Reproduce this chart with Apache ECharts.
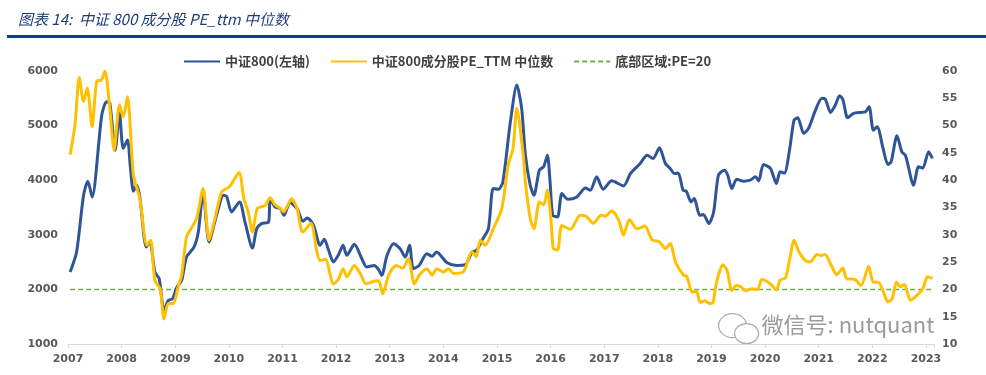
<!DOCTYPE html>
<html>
<head>
<meta charset="utf-8">
<script src="https://cdn.jsdelivr.net/npm/echarts@6/dist/echarts.min.js"></script>
<style>
  html, body { margin: 0; padding: 0; background: #fff; }
  #main { width: 986px; height: 375px; }
</style>
</head>
<body>
<div id="main"></div>
<script>
// 中证800 指数（左轴），时间为小数年份
var csiDates = [2007.04, 2007.16, 2007.29, 2007.37, 2007.45, 2007.63, 2007.72, 2007.78, 2007.88, 2007.96,
    2008.03, 2008.11, 2008.16, 2008.22, 2008.28, 2008.34, 2008.46, 2008.53, 2008.62, 2008.70, 2008.79, 2008.87, 2008.95,
    2009.03, 2009.12, 2009.21, 2009.35, 2009.43, 2009.52, 2009.63, 2009.77, 2009.90, 2009.96,
    2010.05, 2010.20, 2010.30, 2010.44, 2010.52, 2010.61, 2010.74, 2010.77, 2010.86, 2010.96,
    2011.03, 2011.14, 2011.27, 2011.38, 2011.46, 2011.58, 2011.70, 2011.78, 2011.86, 2011.95,
    2012.04, 2012.13, 2012.20, 2012.34, 2012.48, 2012.57, 2012.71, 2012.79, 2012.85, 2012.95,
    2013.07, 2013.19, 2013.29, 2013.37, 2013.44, 2013.55, 2013.69, 2013.79, 2013.87,
    2014.07, 2014.25, 2014.41, 2014.53, 2014.62, 2014.72, 2014.84, 2014.93,
    2015.03, 2015.11, 2015.25, 2015.37, 2015.46, 2015.53, 2015.62, 2015.69, 2015.79, 2015.87, 2015.94, 2015.99,
    2016.04, 2016.13, 2016.21, 2016.32, 2016.49, 2016.65, 2016.74, 2016.86, 2016.98,
    2017.14, 2017.36, 2017.49, 2017.67, 2017.80, 2017.91,
    2018.03, 2018.14, 2018.23, 2018.31, 2018.38, 2018.47, 2018.53, 2018.62, 2018.68, 2018.78, 2018.85, 2018.95,
    2019.04, 2019.13, 2019.24, 2019.30, 2019.38, 2019.47, 2019.60, 2019.72, 2019.82, 2019.88, 2019.97,
    2020.10, 2020.21, 2020.28, 2020.36, 2020.46, 2020.54, 2020.61, 2020.72, 2020.81, 2020.94,
    2021.06, 2021.12, 2021.22, 2021.31, 2021.39, 2021.45, 2021.54, 2021.65, 2021.78, 2021.87, 2021.94,
    2022.02, 2022.09, 2022.20, 2022.29, 2022.35, 2022.46, 2022.55, 2022.62, 2022.77, 2022.86, 2022.94,
    2023.05, 2023.12];
var csiValues = [2317, 2685, 3725, 3982, 3693, 5193, 5437, 5413, 4550, 5224,
    4582, 4734, 4275, 3798, 3908, 3694, 2776, 2868, 2317, 2196, 1615, 1798, 1828,
    2043, 2165, 2593, 2776, 3052, 3786, 2868, 3358, 3725, 3700,
    3419, 3603, 3235, 2758, 3113, 3205, 3235, 3664, 3511, 3480,
    3358, 3591, 3480, 3248, 3309, 3174, 2807, 2917, 2716, 2501,
    2624, 2807, 2624, 2826, 2563, 2410, 2440, 2367, 2257, 2624,
    2838, 2747, 2593, 2807, 2379, 2440, 2655, 2606, 2685,
    2490, 2440, 2453, 2673, 2716, 2899, 3113, 3848,
    3835, 3969, 5070, 5743, 5315, 4459, 3908, 3725, 4184, 4245, 4459, 3969,
    3358, 3327, 3756, 3651, 3694, 3859, 3817, 4061, 3835,
    3988, 3896, 4123, 4306, 4459, 4398,
    4593, 4306, 4215, 4123, 4130, 3817, 3800, 3603, 3664, 3358, 3370, 3205,
    3419, 4092, 4184, 4100, 3848, 4018, 3982, 4000, 4061, 3990, 4288,
    4215, 3939, 4153, 4130, 4582, 5101, 5143, 4857, 4949, 5284,
    5499, 5490, 5242, 5376, 5547, 5480, 5143, 5224, 5242, 5250, 5346,
    4917, 4978, 4582, 4288, 4337, 4813, 4520, 4450, 3908, 4245, 4220,
    4520, 4398];

// 中证800成分股 PE_TTM 中位数（右轴）
var peDates = [2007.04, 2007.13, 2007.21, 2007.29, 2007.36, 2007.45, 2007.54, 2007.62, 2007.69, 2007.78, 2007.86, 2007.96,
    2008.03, 2008.11, 2008.22, 2008.34, 2008.47, 2008.54, 2008.62, 2008.72, 2008.79, 2008.87, 2008.96,
    2009.06, 2009.12, 2009.21, 2009.31, 2009.40, 2009.52, 2009.63, 2009.74, 2009.87,
    2010.01, 2010.19, 2010.28, 2010.36, 2010.44, 2010.53, 2010.68, 2010.77, 2010.86, 2010.96,
    2011.02, 2011.17, 2011.27, 2011.38, 2011.53, 2011.63, 2011.70, 2011.80, 2011.95,
    2012.04, 2012.13, 2012.20, 2012.34, 2012.45, 2012.56, 2012.70, 2012.79, 2012.87, 2012.98,
    2013.12, 2013.24, 2013.35, 2013.46, 2013.55, 2013.69, 2013.79, 2013.88,
    2014.00, 2014.10, 2014.19, 2014.38, 2014.53, 2014.61, 2014.69, 2014.78, 2014.93,
    2015.09, 2015.21, 2015.30, 2015.37, 2015.49, 2015.53, 2015.62, 2015.69, 2015.79, 2015.87, 2015.94,
    2016.01, 2016.05, 2016.13, 2016.21, 2016.37, 2016.55, 2016.66, 2016.80, 2016.94,
    2017.02, 2017.14, 2017.27, 2017.36, 2017.47, 2017.61, 2017.76, 2017.89,
    2018.03, 2018.14, 2018.23, 2018.33, 2018.48, 2018.54, 2018.64, 2018.72, 2018.79, 2018.88, 2018.96,
    2019.03, 2019.07, 2019.13, 2019.21, 2019.29, 2019.38, 2019.46, 2019.54, 2019.63, 2019.76, 2019.86, 2019.94,
    2020.10, 2020.21, 2020.28, 2020.38, 2020.46, 2020.54, 2020.63, 2020.75, 2020.84, 2020.97,
    2021.04, 2021.12, 2021.22, 2021.34, 2021.45, 2021.52, 2021.68, 2021.79, 2021.93,
    2022.02, 2022.11, 2022.21, 2022.29, 2022.37, 2022.45, 2022.52, 2022.60, 2022.71, 2022.82, 2022.94,
    2023.03, 2023.12];
var peValues = [44.7, 50.1, 58.8, 54.4, 56.9, 49.8, 58.2, 58.3, 60.0, 53.1, 45.5, 53.8,
    51.6, 55.3, 40.9, 36.6, 28.1, 29.0, 21.6, 20.1, 14.6, 17.4, 17.4,
    20.7, 22.6, 29.6, 31.4, 33.0, 38.5, 29.0, 33.0, 37.9,
    38.8, 41.4, 36.6, 34.2, 30.5, 34.8, 35.4, 36.8, 35.5, 34.8,
    34.2, 36.6, 34.8, 30.5, 32.1, 27.5, 25.3, 25.5, 21.0,
    21.8, 23.8, 22.3, 24.4, 22.9, 21.0, 21.5, 21.6, 19.2, 22.6,
    24.4, 23.9, 25.6, 21.0, 22.6, 23.8, 22.6, 23.8,
    23.2, 23.8, 22.9, 23.3, 26.9, 26.0, 29.0, 28.1, 31.1,
    34.8, 42.8, 45.8, 53.2, 44.6, 39.7, 33.0, 31.1, 36.0, 35.5, 38.2,
    32.4, 27.5, 27.2, 31.7, 31.0, 33.6, 33.4, 32.1, 33.6,
    33.4, 34.4, 32.7, 29.9, 32.8, 31.1, 31.6, 29.1,
    28.7, 27.5, 28.4, 25.0, 22.6, 22.4, 19.5, 19.7, 17.6, 17.9, 17.4,
    17.6, 20.1, 22.6, 24.5, 23.5, 19.8, 20.7, 20.5, 19.8, 20.1, 20.0, 21.8,
    21.0, 19.9, 21.7, 22.1, 25.6, 29.0, 26.9, 25.3, 25.0, 26.4,
    26.2, 26.4, 24.7, 22.7, 23.9, 22.0, 21.8, 20.7, 24.2,
    21.3, 21.3, 19.5, 17.7, 18.3, 21.3, 20.5, 20.9, 18.0, 18.8, 20.1,
    22.3, 22.0];

// 底部区域 PE=20
var floorDates = [2007.04, 2023.12];
var floorValues = [20, 20];

var xTicks = { min: 2007, max: 2023.15, step: 1 };

function zip(xs, ys) {
    var out = [];
    for (var i = 0; i < xs.length; i++) out.push([xs[i], ys[i]]);
    return out;
}

var myChart = echarts.init(document.getElementById('main'));
var labelStyle = {
    color: '#595959',
    fontWeight: 'bold',
    fontSize: 11,
    fontFamily: 'DejaVu Sans'
};

var option = {
    backgroundColor: '#fff',
    animation: false,
    graphic: [
        {
            type: 'text', left: 18, top: 12,
            style: {
                text: '图表 14:  中证 800 成分股 PE_ttm 中位数',
                fill: '#1f3d7a',
                font: 'italic 15px "Noto Sans CJK SC"'
            }
        },
        {
            type: 'rect', shape: { x: 7, y: 35, width: 979, height: 3 },
            style: { fill: '#0c3d8f' }
        },
        // 水印
        {
            type: 'group', left: 718, top: 313, silent: true,
            children: [
                { type: 'ellipse', shape: { cx: 16, cy: 13, rx: 14, ry: 12 },
                  style: { fill: '#fff', stroke: '#aaa', lineWidth: 1.2 } },
                { type: 'ellipse', shape: { cx: 30, cy: 21, rx: 12, ry: 10 },
                  style: { fill: '#fff', stroke: '#aaa', lineWidth: 1.2 } },
                { type: 'text', left: 45, top: 1,
                  style: { text: '微信号: nutquant', fill: 'rgba(120,120,120,0.75)',
                           font: '22px "Noto Sans CJK SC"' } }
            ]
        }
    ],
    legend: {
        left: 178,
        top: 50,
        itemWidth: 36,
        itemHeight: 10,
        itemGap: 20,
        itemStyle: { opacity: 0 },
        textStyle: {
            color: '#404040',
            fontWeight: 'bold',
            fontSize: 13,
            fontFamily: 'Noto Sans CJK SC'
        },
        data: ['中证800(左轴)', '中证800成分股PE_TTM 中位数', '底部区域:PE=20']
    },
    grid: {
        left: 68,
        right: 52,
        top: 71,
        bottom: 31
    },
    xAxis: {
        type: 'value',
        min: xTicks.min,
        max: xTicks.max,
        interval: xTicks.step,
        axisLine: { lineStyle: { color: '#d9d9d9' } },
        axisTick: { show: true, length: 4, lineStyle: { color: '#d9d9d9' } },
        splitLine: { show: false },
        axisLabel: Object.assign({
            margin: 10,
            formatter: function (v) {
                return Math.abs(v - Math.round(v)) < 1e-6 ? String(Math.round(v)) : '';
            }
        }, labelStyle)
    },
    yAxis: [
        {
            type: 'value', min: 1000, max: 6000, interval: 1000,
            axisLine: { show: false }, axisTick: { show: false },
            splitLine: { show: false },
            axisLabel: Object.assign({ margin: 10, formatter: function (v) { return String(v); } }, labelStyle)
        },
        {
            type: 'value', min: 10, max: 60, interval: 5,
            axisLine: { show: false }, axisTick: { show: false },
            splitLine: { show: false },
            axisLabel: Object.assign({ margin: 8, formatter: function (v) { return String(v); } }, labelStyle)
        }
    ],
    series: [
        {
            name: '中证800(左轴)',
            type: 'line',
            yAxisIndex: 0,
            data: zip(csiDates, csiValues),
            smooth: 0.25,
            symbol: 'none',
            lineStyle: { color: '#2f5597', width: 3 },
            itemStyle: { color: '#2f5597' },
            z: 3
        },
        {
            name: '中证800成分股PE_TTM 中位数',
            type: 'line',
            yAxisIndex: 1,
            data: zip(peDates, peValues),
            smooth: 0.25,
            symbol: 'none',
            lineStyle: { color: '#ffc000', width: 3 },
            itemStyle: { color: '#ffc000' },
            z: 4
        },
        {
            name: '底部区域:PE=20',
            type: 'line',
            yAxisIndex: 1,
            data: zip(floorDates, floorValues),
            symbol: 'none',
            lineStyle: { color: '#70ad47', width: 1.5, type: [5, 3] },
            itemStyle: { color: '#70ad47' },
            z: 2
        }
    ]
};
myChart.setOption(option);
</script>
</body>
</html>
